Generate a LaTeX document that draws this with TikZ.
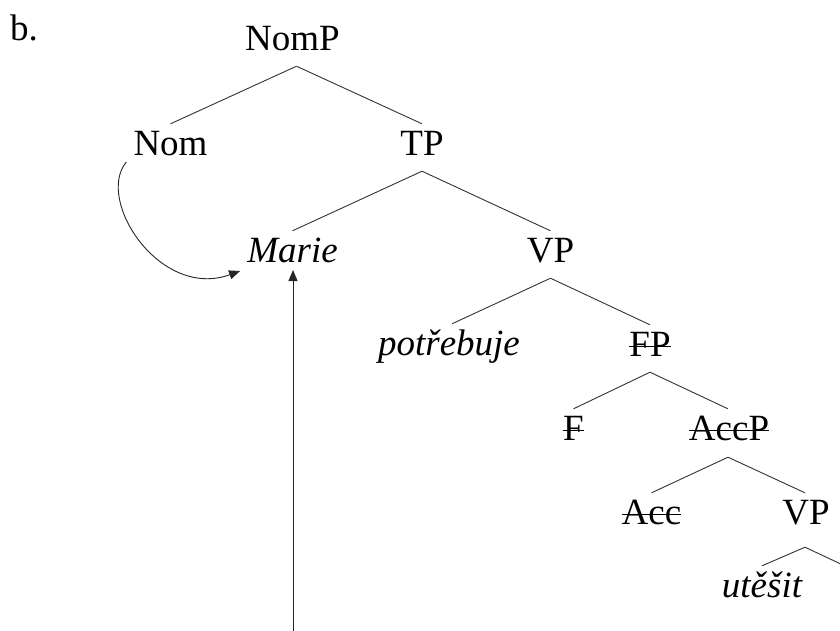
\documentclass[tikz,border=0pt]{standalone}
\usepackage{fontspec}
\setmainfont{Liberation Serif}
\usetikzlibrary{arrows.meta,calc}
\newcommand\strk[1]{\setbox0\hbox{#1}\rlap{\rule[9pt]{\wd0}{1.3pt}}\box0}
\tikzset{
  lbl/.style={font=\fontsize{37pt}{42pt}\selectfont, anchor=base, inner xsep=0pt, inner ysep=6pt, text height=25pt, text depth=10pt},
  edge/.style={line width=0.9pt, black!80},
  mv/.style={line width=0.9pt, black!85, -{Triangle[length=11pt,width=9pt]}}
}
\begin{document}
\begin{tikzpicture}[x=1pt,y=-1pt]
\clip (0,0) rectangle (840,630);
\node[lbl, anchor=base west] (b) at (10,40) {b.};
\node[lbl] (NomP) at (292.5,50) {NomP};
\node[lbl] (Nom) at (170.5,155) {Nom};
\node[lbl] (TP) at (422,155) {TP};
\node[lbl] (Marie) at (292.5,262) {\itshape Marie};
\node[lbl] (VP) at (550.5,262) {VP};
\node[lbl] (potr) at (449,355) {\itshape potřebuje};
\node[lbl] (FP) at (650,356) {\strk{FP}};
\node[lbl] (F) at (573.5,440) {\strk{F}};
\node[lbl] (AccP) at (729,440) {\strk{AccP}};
\node[lbl] (Acc) at (651.5,524) {\strk{Acc}};
\node[lbl] (VPb) at (806,524) {VP};
\node[lbl] (ut) at (762,597) {\itshape utěšit};
\coordinate (off) at (860,573);
\coordinate (bot) at (293,632);

\draw[edge] ([xshift=4pt]NomP.south) -- (Nom.north);
\draw[edge] ([xshift=4pt]NomP.south) -- (TP.north);
\draw[edge] (TP.south) -- (Marie.north);
\draw[edge] (TP.south) -- (VP.north);
\draw[edge] (VP.south) -- ([xshift=3pt]potr.north);
\draw[edge] (VP.south) -- (FP.north);
\draw[edge] (FP.south) -- (F.north);
\draw[edge] (FP.south) -- ([xshift=-1pt]AccP.north);
\draw[edge] ([xshift=-1pt,yshift=-1pt]AccP.south) -- (Acc.north);
\draw[edge] ([xshift=-1pt,yshift=-1pt]AccP.south) -- ([xshift=-1pt]VPb.north);
\draw[edge] ([xshift=-1pt,yshift=-7pt]VPb.south) -- (ut.north);
\draw[edge] ([xshift=-1pt,yshift=-7pt]VPb.south) -- (off);

\draw[mv] ($(Nom.base west)+(-7,7)$) .. controls (95,200) and (160,300) .. ($(Marie.base west)+(-7,9)$);
\draw[mv] (bot) -- ($(bot |- Marie.base)+(0,8)$);
\end{tikzpicture}
\end{document}
